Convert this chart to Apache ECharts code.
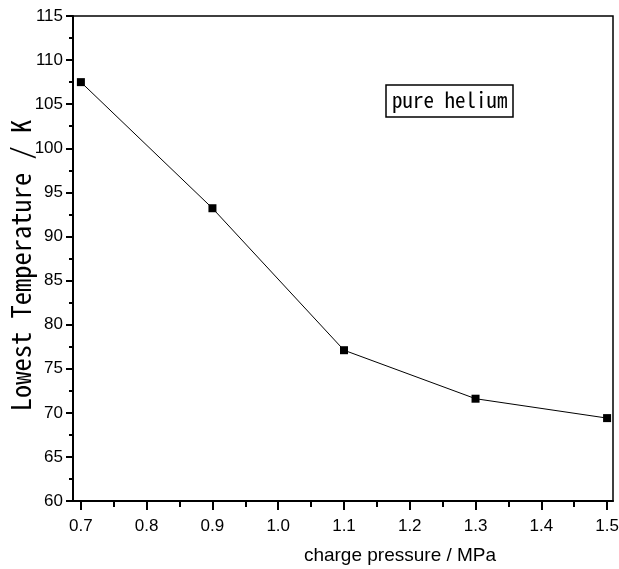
<!DOCTYPE html>
<html>
<head>
<meta charset="utf-8">
<script src="https://cdn.jsdelivr.net/npm/echarts@6/dist/echarts.min.js"></script>
<style>html,body{margin:0;padding:0;background:#fff}#c{width:619px;height:569px}</style>
</head>
<body>
<div id="c"></div>
<script>
var pressures = [0.7, 0.9, 1.1, 1.3, 1.5];
var temperatures = [107.5, 93.2, 77.1, 71.6, 69.4];
var xTickValues = [0.7, 0.8, 0.9, 1.0, 1.1, 1.2, 1.3, 1.4, 1.5];
var xMinorTickValues = [0.75, 0.85, 0.95, 1.05, 1.15, 1.25, 1.35, 1.45];
var seriesName = 'pure helium';
var xTitle = 'charge pressure / MPa';
var yTitle = 'Lowest Temperature / K';

var chart = echarts.init(document.getElementById('c'), null, {renderer: 'canvas'});
var data = pressures.map(function (p, i) { return [p, temperatures[i]]; });
var labelFont = 'Liberation Sans, Arial, sans-serif';
var monoFont = 'Noto Sans Mono CJK SC, DejaVu Sans Mono, monospace';

chart.setOption({
  animation: false,
  backgroundColor: '#fff',
  title: {
    text: seriesName,
    left: 386,
    top: 85,
    padding: [5, 6, 6, 6],
    borderColor: '#000',
    borderWidth: 1.5,
    textStyle: {fontFamily: monoFont, fontSize: 21, fontWeight: 'normal', color: '#000'}
  },
  grid: {
    left: 73, right: 6, top: 16, bottom: 68,
    outerBoundsMode: 'none',
    containLabel: false,
    show: true, borderColor: '#000', borderWidth: 1.5, backgroundColor: 'transparent'
  },
  xAxis: [{
    type: 'value',
    min: 0.688,
    max: 1.509,
    name: xTitle,
    nameLocation: 'middle',
    nameGap: 45,
    nameMoveOverlap: false,
    nameTextStyle: {fontFamily: labelFont, fontSize: 19, color: '#000', padding: [0, 0, 0, 114]},
    axisLine: {show: true, onZero: false, lineStyle: {color: '#000', width: 2}},
    axisTick: {show: true, length: 9, customValues: xTickValues, lineStyle: {color: '#000', width: 2}},
    axisLabel: {
      customValues: xTickValues, margin: 17, color: '#000', fontFamily: labelFont, fontSize: 17,
      formatter: function (v) { return v.toFixed(1); }
    },
    splitLine: {show: false}
  }, {
    type: 'value',
    position: 'bottom',
    min: 0.688,
    max: 1.509,
    axisLine: {show: false},
    axisTick: {show: true, length: 6, customValues: xMinorTickValues, lineStyle: {color: '#000', width: 2}},
    axisLabel: {show: false},
    splitLine: {show: false}
  }],
  yAxis: {
    type: 'value',
    min: 60,
    max: 115,
    interval: 5,
    name: yTitle,
    nameLocation: 'middle',
    nameGap: 39,
    nameRotate: 90,
    nameMoveOverlap: false,
    nameTextStyle: {fontFamily: monoFont, fontSize: 26.5, color: '#000', padding: [0, 14, 0, 0]},
    axisLine: {show: true, lineStyle: {color: '#000', width: 2}},
    axisTick: {show: true, length: 7, lineStyle: {color: '#000', width: 2}},
    minorTick: {show: true, splitNumber: 2, length: 4, lineStyle: {color: '#000', width: 2}},
    axisLabel: {margin: 10, color: '#000', fontFamily: labelFont, fontSize: 17},
    splitLine: {show: false}
  },
  series: [{
    name: seriesName,
    type: 'line',
    xAxisIndex: 0,
    data: data,
    symbol: 'rect',
    symbolSize: 8,
    itemStyle: {color: '#000'},
    lineStyle: {color: '#000', width: 1}
  }]
});
</script>
</body>
</html>
